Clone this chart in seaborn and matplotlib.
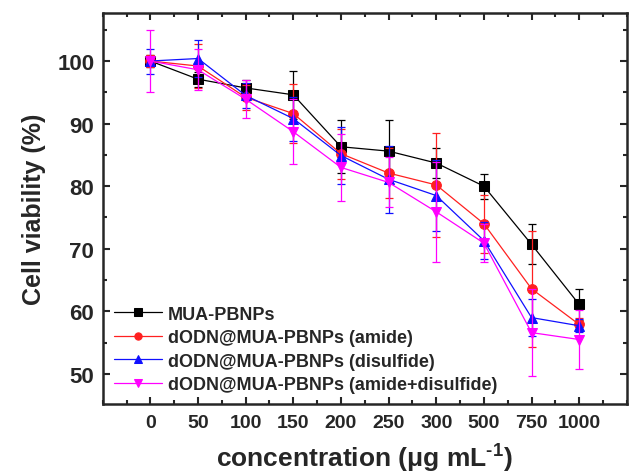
import numpy as np
import pandas as pd
import seaborn as sns
import matplotlib.pyplot as plt
from matplotlib.ticker import MultipleLocator

## data
conc = ['0', '50', '100', '150', '200', '250', '300', '500', '750', '1000']

mua = [100.0, 97.1, 95.7, 94.6, 86.3, 85.6, 83.7, 80.0, 70.7, 61.1]
mua_err = [1.0, 1.2, 1.2, 3.8, 4.2, 5.0, 2.4, 2.0, 3.2, 2.5]

amide = [100.0, 99.2, 94.2, 91.6, 85.2, 82.1, 80.2, 74.0, 63.6, 57.9]
amide_err = [1.0, 3.5, 2.0, 4.7, 4.0, 4.0, 8.3, 4.6, 9.3, 1.0]

disulfide = [100.0, 100.4, 94.5, 90.8, 84.9, 81.1, 78.5, 71.3, 59.0, 57.7]
disulfide_err = [2.0, 3.0, 2.0, 3.5, 4.5, 5.4, 5.7, 3.0, 3.0, 1.0]

both = [100.0, 98.6, 93.9, 88.7, 83.0, 80.6, 75.9, 70.9, 56.6, 55.5]
both_err = [5.0, 3.3, 3.0, 5.2, 5.3, 4.0, 8.0, 3.0, 7.0, 4.7]

series = [
    ('MUA-PBNPs', mua, mua_err, 'black', 's'),
    ('dODN@MUA-PBNPs (amide)', amide, amide_err, '#ff2020', 'o'),
    ('dODN@MUA-PBNPs (disulfide)', disulfide, disulfide_err, '#1010ff', '^'),
    ('dODN@MUA-PBNPs (amide+disulfide)', both, both_err, '#ff00ff', 'v'),
]

sns.set_style('ticks')
plt.rcParams['font.family'] = ['Liberation Sans', 'DejaVu Sans']
plt.rcParams['font.weight'] = 'bold'
plt.rcParams['mathtext.fontset'] = 'custom'
plt.rcParams['mathtext.rm'] = 'Liberation Sans:bold'
plt.rcParams['mathtext.bf'] = 'Liberation Sans:bold'

fig = plt.figure(figsize=(6.3, 4.77), dpi=100)
ax = fig.add_axes([0.163, 0.151, 0.832, 0.820])

x = np.arange(len(conc))
for name, vals, err, col, mk in series:
    sns.lineplot(x=x, y=vals, ax=ax, color=col, marker=mk, markersize=7,
                 markeredgecolor=col, linewidth=0.9, label=name)
    ax.errorbar(x, vals, yerr=err, fmt='none', ecolor=col, elinewidth=0.9,
                capsize=3, capthick=0.9)

ax.set_xlim(-1, 10)
ax.set_ylim(45.2, 107.7)
ax.set_xticks(x)
ax.set_xticklabels(conc)
ax.xaxis.set_minor_locator(MultipleLocator(0.5))
ax.yaxis.set_major_locator(MultipleLocator(10))
ax.yaxis.set_minor_locator(MultipleLocator(5))
ax.tick_params(which='both', direction='in', top=True, right=True, width=1.5)
ax.tick_params(which='major', length=5)
ax.tick_params(which='minor', length=3)
ax.tick_params(axis='x', which='major', labelsize=14, pad=7)
ax.tick_params(axis='y', which='major', labelsize=16, pad=6)
for lab in ax.get_xticklabels() + ax.get_yticklabels():
    lab.set_fontweight('bold')
for s in ax.spines.values():
    s.set_linewidth(1.8)

ax.set_xlabel('concentration (μg mL$^{\\text{-1}}$)', fontsize=19, fontweight='bold', labelpad=7)
ax.set_ylabel('Cell viability (%)', fontsize=18, fontweight='bold', labelpad=8)

ax.legend(loc='lower left', frameon=False, handlelength=2.7, handletextpad=0.3,
          labelspacing=0.36, borderaxespad=0.55, borderpad=0.05, markerscale=0.75,
          prop={'weight': 'bold', 'size': 13})

fig.savefig('out.png', dpi=100)
